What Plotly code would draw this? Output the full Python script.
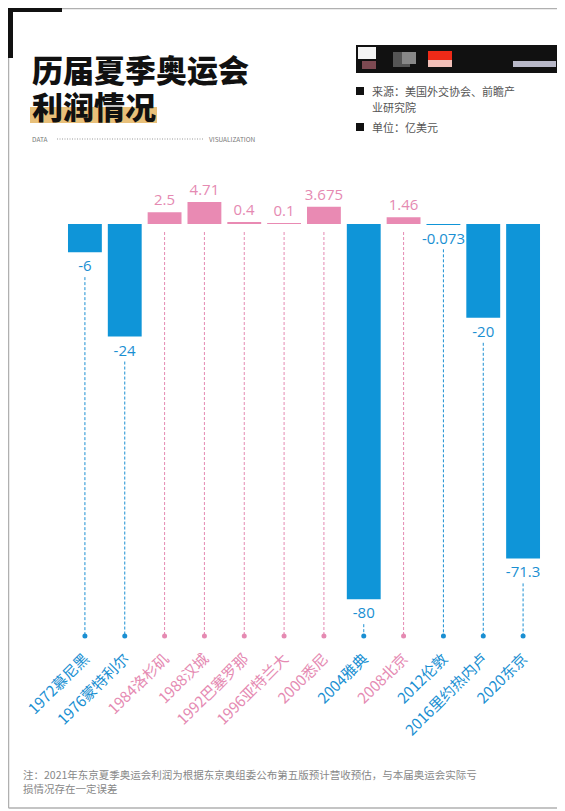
import plotly.graph_objects as go

# data
games = ["1972慕尼黑", "1976蒙特利尔", "1984洛杉矶", "1988汉城", "1992巴塞罗那", "1996亚特兰大",
         "2000悉尼", "2004雅典", "2008北京", "2012伦敦", "2016里约热内卢", "2020东京"]
profit = [-6, -24, 2.5, 4.71, 0.4, 0.1, 3.675, -80, 1.46, -0.073, -20, -71.3]

BLUE = "#0f95d8"
BLUE_TXT = "#1a8fd2"
PINK = "#e98ab3"
PINK_TXT = "#e58ab2"
CJK = "Noto Sans CJK SC"

# page geometry (the html body adds an 8px margin, so the figure is offset)
PAGE_W, PAGE_H, OFF = 565, 811, 8
W, H = PAGE_W - OFF, PAGE_H - OFF
left_px, right_px = 65, 543
top_px, bottom_px, zero_px = 150, 640, 224
px_per_unit = 4.69
y_top = (zero_px - top_px) / px_per_unit
y_bot = -(bottom_px - zero_px) / px_per_unit
dot_y = -(636 - zero_px) / px_per_unit


def px(x):  # page pixel -> paper x
    return (x - left_px) / (right_px - left_px)


def py(y):  # page pixel -> paper y
    return (bottom_px - y) / (bottom_px - top_px)


bar_cols = [BLUE if v < 0 else PINK for v in profit]
txt_cols = [BLUE_TXT if v < 0 else PINK_TXT for v in profit]

fig = go.Figure()

# dashed leader lines + end dots
for g, v, c in zip(games, profit, txt_cols):
    start = v - 25 / px_per_unit if v < 0 else -8 / px_per_unit
    fig.add_trace(go.Scatter(x=[g, g], y=[start, dot_y], mode="lines",
                             line=dict(color=c, width=1, dash="3px,2px"),
                             hoverinfo="skip", showlegend=False))
fig.add_trace(go.Scatter(x=games, y=[dot_y] * len(games), mode="markers",
                         marker=dict(color=txt_cols, size=5),
                         hoverinfo="skip", showlegend=False))

fig.add_trace(go.Bar(
    x=games, y=profit, width=0.85,
    marker=dict(color=bar_cols, line=dict(width=0)),
    text=[str(v) for v in profit], textposition="outside", constraintext="none",
    textfont=dict(family="Open Sans, " + CJK, size=15, color=txt_cols),
    cliponaxis=False, showlegend=False,
))

ticktext = [f'<span style="color:{c}">{g}</span>' for g, c in zip(games, txt_cols)]

fig.update_layout(
    width=W, height=H,
    margin=dict(l=left_px - OFF, r=PAGE_W - right_px, t=top_px - OFF, b=PAGE_H - bottom_px),
    paper_bgcolor="white", plot_bgcolor="white",
    font=dict(family=CJK),
    xaxis=dict(tickmode="array", tickvals=games, ticktext=ticktext, tickangle=-45,
               tickfont=dict(family=CJK, size=15), showgrid=False, showline=False,
               zeroline=False, range=[-0.5, 11.5], automargin=False,
               ticklabelstandoff=6),
    yaxis=dict(range=[y_bot, y_top], visible=False, zeroline=False, showgrid=False),
    bargap=0.15,
)

# frame
GRAY = "#b0b0b0"
fig.add_shape(type="line", xref="paper", yref="paper",
              x0=px(8.5), x1=px(PAGE_W), y0=py(8.5), y1=py(8.5), line=dict(color=GRAY, width=1.5))
fig.add_shape(type="line", xref="paper", yref="paper",
              x0=px(8.5), x1=px(8.5), y0=py(8), y1=py(808), line=dict(color=GRAY, width=1.5))
fig.add_shape(type="line", xref="paper", yref="paper",
              x0=px(8.5), x1=px(PAGE_W), y0=py(808), y1=py(808), line=dict(color=GRAY, width=1.5))
fig.add_shape(type="rect", xref="paper", yref="paper", x0=px(8), x1=px(62),
              y0=py(12), y1=py(8), fillcolor="#111", line=dict(width=0))
fig.add_shape(type="rect", xref="paper", yref="paper", x0=px(8), x1=px(13),
              y0=py(58), y1=py(8), fillcolor="#111", line=dict(width=0))

# title highlight
fig.add_shape(type="rect", xref="paper", yref="paper", x0=px(30), x1=px(157),
              y0=py(123), y1=py(107), fillcolor="#e8c07a", line=dict(width=0),
              layer="below")


def note(x, y, text, size, color, weight="normal"):
    fig.add_annotation(xref="paper", yref="paper", x=px(x), y=py(y), text=text,
                       showarrow=False, xanchor="left", yanchor="middle", align="left",
                       font=dict(family=CJK, size=size, color=color, weight=weight))


note(30, 68, "历届夏季奥运会", 31, "#111", weight=900)
note(30, 105, "利润情况", 31, "#111", weight=900)
note(30, 139, "DATA", 6.5, "#777")
note(207, 139, "VISUALIZATION", 6.5, "#777")
fig.add_shape(type="line", xref="paper", yref="paper", x0=px(57), x1=px(204),
              y0=py(139), y1=py(139), line=dict(color="#999", width=1, dash="1px,1.5px"))

# blurred logo block
fig.add_shape(type="rect", xref="paper", yref="paper", x0=px(356), x1=px(PAGE_W),
              y0=py(73), y1=py(45), fillcolor="#111", line=dict(width=0))
for x0, x1, y0, y1, c in [(358, 376, 47, 59, "#f4f4f4"), (393, 410, 52, 67, "#555"),
                          (402, 416, 52, 64, "#888"), (428, 452, 51, 60, "#ee2a18"),
                          (428, 452, 60, 67, "#f3c0b8"), (362, 376, 61, 69, "#7d4a52"),
                          (513, 556, 61, 67, "#b8b8c8")]:
    fig.add_shape(type="rect", xref="paper", yref="paper", x0=px(x0), x1=px(x1),
                  y0=py(y1), y1=py(y0), fillcolor=c, line=dict(width=0))

# legend-like notes
for yy in (91, 127):
    fig.add_shape(type="rect", xref="paper", yref="paper", x0=px(356), x1=px(364),
                  y0=py(yy + 4), y1=py(yy - 4), fillcolor="#111", line=dict(width=0))
note(370, 91, "来源：美国外交协会、前瞻产", 11, "#555")
note(370, 107, "业研究院", 11, "#555")
note(370, 127, "单位：亿美元", 11, "#555")

note(21, 781, "注：2021年东京夏季奥运会利润为根据东京奥组委公布第五版预计营收预估，与本届奥运会实际亏<br>损情况存在一定误差",
     10.5, "#888")

fig.write_html("out.html")
